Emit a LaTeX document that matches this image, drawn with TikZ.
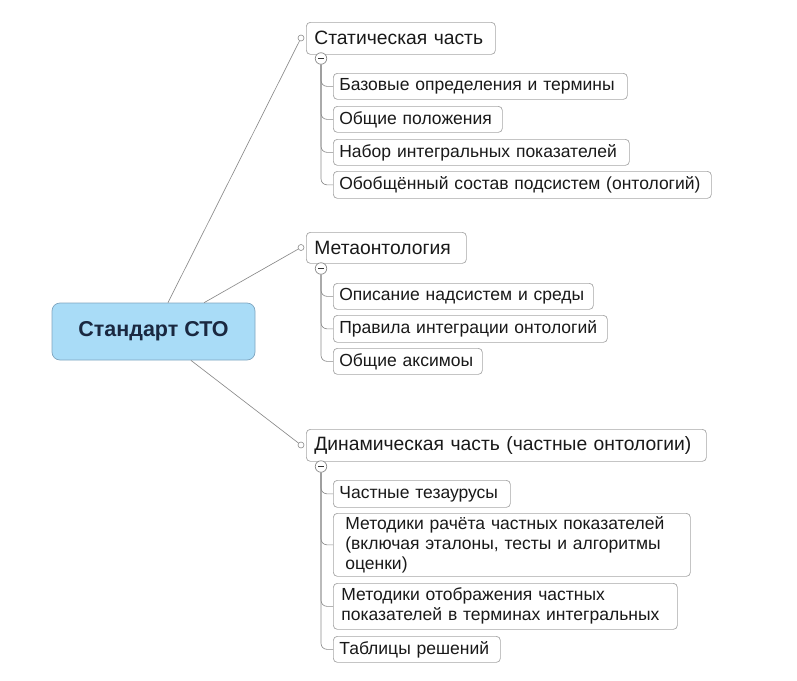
\documentclass[tikz,border=0pt]{standalone}
\usepackage{fontspec}
\setmainfont{Liberation Sans}
\definecolor{boxgray}{HTML}{A6A6A6}
\definecolor{linegray}{HTML}{8A8A8A}
\definecolor{rootfill}{HTML}{A9DCF7}
\definecolor{rootdraw}{HTML}{7FA5BF}
\definecolor{roottext}{HTML}{1A2840}
\begin{document}
\begin{tikzpicture}[x=1pt,y=-1pt,
  mainbox/.style={draw=boxgray, line width=0.7pt, rounded corners=4pt, fill=white, anchor=north west,
    inner xsep=8pt, inner ysep=0pt, align=left, text=black!90, font=\fontsize{19.3}{22}\selectfont},
  childbox/.style={draw=boxgray, line width=0.7pt, rounded corners=4pt, fill=white, anchor=north west,
    inner xsep=6pt, inner ysep=0pt, align=left, text=black!90, font=\fontsize{17.5}{20}\selectfont},
  rootbox/.style={draw=rootdraw, line width=0.7pt, rounded corners=8pt, fill=rootfill,
    text=roottext, font=\fontsize{21.5}{24}\selectfont\bfseries, minimum width=203pt, minimum height=57pt, inner sep=0pt},
  knob/.style={circle, draw=linegray, fill=white, line width=0.6pt, minimum size=6pt, inner sep=0pt},
  collapse/.style={circle, draw=linegray, fill=white, line width=0.7pt, minimum size=11.5pt, inner sep=0pt,
    path picture={\draw[black!80, line width=1pt] ([xshift=-3pt]path picture bounding box.center) -- ([xshift=3pt]path picture bounding box.center);}},
  link/.style={draw=linegray, line width=0.65pt},
  branch/.style={draw=linegray, line width=0.65pt, rounded corners=6pt}
]
\useasboundingbox (0,0) rectangle (797,680);

% root
\node[rootbox] (root) at (153.5,331.5) {Стандарт СТО};

% main branches
\node[mainbox, text width=173pt, minimum height=32pt] (s) at (306,22) {Статическая часть};
\node[mainbox, text width=144pt, minimum height=31pt] (m) at (306,232) {Метаонтология};
\node[mainbox, text width=384pt, minimum height=32pt] (d) at (306,429) {Динамическая часть (частные онтологии)};

\node[knob] (sk) at (301,38) {};
\node[knob] (mk) at (301,247.5) {};
\node[knob] (dk) at (301,445) {};

\draw[link] (root) -- (sk);
\draw[link] (root) -- (mk);
\draw[link] (root) -- (dk);

% children of static part
\node[childbox, text width=282pt, minimum height=26pt] (s1) at (333,73) {Базовые определения и термины};
\node[childbox, text width=157pt, minimum height=26pt] (s2) at (333,106) {Общие положения};
\node[childbox, text width=284pt, minimum height=26pt] (s3) at (333,139) {Набор интегральных показателей};
\node[childbox, text width=366pt, minimum height=27pt] (s4) at (333,171) {Обобщённый состав подсистем (онтологий)};

% children of metaontology
\node[childbox, text width=248pt, minimum height=26pt] (m1) at (333,283) {Описание надсистем и среды};
\node[childbox, text width=262pt, minimum height=27pt] (m2) at (333,315) {Правила интеграции онтологий};
\node[childbox, text width=137pt, minimum height=26pt] (m3) at (333,348) {Общие аксимоы};

% children of dynamic part
\node[childbox, text width=165pt, minimum height=27pt] (d1) at (333,480) {Частные тезаурусы};
\node[childbox, inner xsep=12pt, text width=333pt, minimum height=63pt] (d2) at (333,513) {Методики рачёта частных показателей\\(включая эталоны, тесты и алгоритмы\\оценки)};
\node[childbox, inner xsep=8pt, text width=328pt, minimum height=46pt] (d3) at (333,583) {Методики отображения частных\\показателей в терминах интегральных};
\node[childbox, text width=155pt, minimum height=26pt] (d4) at (333,636) {Таблицы решений};

% collapse buttons
\node[collapse] (sc) at (321,58.5) {};
\node[collapse] (mc) at (321,268.5) {};
\node[collapse] (dc) at (321,466.5) {};

% branch connectors
\foreach \c in {s1,s2,s3,s4} \draw[branch] (sc.south) |- (\c.west);
\foreach \c in {m1,m2,m3} \draw[branch] (mc.south) |- (\c.west);
\foreach \c in {d1,d2,d3,d4} \draw[branch] (dc.south) |- (\c.west);
\end{tikzpicture}
\end{document}
